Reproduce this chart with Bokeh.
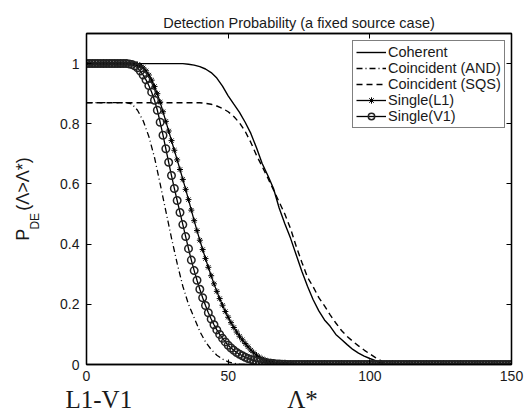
from bokeh.plotting import figure
from bokeh.models import (ColumnDataSource, Range1d, LinearAxis, Legend, LegendItem,
                          Title, FixedTicker)
from bokeh.embed import file_html
from bokeh.resources import INLINE

# ---------------- data ----------------
title_text = "Detection Probability (a fixed source case)"
series_names = ["Coherent", "Coincident (AND)", "Coincident (SQS)", "Single(L1)", "Single(V1)"]
x_ticks = [0, 50, 100, 150]
y_ticks = [0, 0.2, 0.4, 0.6, 0.8, 1]
y_tick_labels = ["0", "0.2", "0.4", "0.6", "0.8", "1"]

x_coherent = list(range(0, 107, 2))
p_coherent = [1.0, 1.0, 1.0, 1.0, 1.0, 1.0, 1.0, 1.0, 1.0, 1.0,
              1.0, 1.0, 1.0, 1.0, 1.0, 1.0, 1.0, 1.0,
              0.998, 0.995, 0.99, 0.982, 0.97, 0.952, 0.925, 0.893, 0.865, 0.838,
              0.805, 0.768, 0.72, 0.668, 0.628, 0.585, 0.52, 0.468, 0.42, 0.365,
              0.31, 0.26, 0.215, 0.178, 0.148, 0.127, 0.1, 0.083, 0.066, 0.05,
              0.038, 0.028, 0.02, 0.013, 0.005, 0.0]

x_and = list(range(0, 57, 2))
p_and = [0.87, 0.87, 0.87, 0.87, 0.87, 0.87, 0.87, 0.87,
         0.866, 0.845, 0.81, 0.758, 0.688, 0.6, 0.51, 0.42, 0.336, 0.26,
         0.2, 0.155, 0.11, 0.075, 0.05, 0.031, 0.018, 0.009, 0.004, 0.001, 0.0]

x_sqs = list(range(0, 107, 2))
p_sqs = [0.87, 0.87, 0.87, 0.87, 0.87, 0.87, 0.87, 0.87, 0.87, 0.87,
         0.87, 0.87, 0.87, 0.87, 0.87, 0.87, 0.87, 0.87, 0.87, 0.87, 0.87,
         0.868, 0.865, 0.859, 0.851, 0.84, 0.824, 0.803, 0.775, 0.738, 0.695,
         0.658, 0.62, 0.58, 0.54, 0.5, 0.452, 0.393, 0.34, 0.29, 0.258,
         0.222, 0.195, 0.165, 0.138, 0.113, 0.093, 0.077, 0.062, 0.048, 0.035,
         0.023, 0.012, 0.0]

x_single = list(range(0, 151))
p_l1 = [1.0, 1.0, 1.0, 1.0, 1.0, 1.0, 1.0, 1.0, 1.0, 1.0,
        1.0, 1.0, 1.0, 1.0, 1.0, 1.0, 1.0,
        0.999, 0.997, 0.993, 0.986, 0.976, 0.962, 0.945, 0.924, 0.9, 0.872,
        0.84, 0.808, 0.776, 0.744, 0.712, 0.68, 0.648, 0.615, 0.582, 0.548,
        0.513, 0.478, 0.445, 0.413, 0.382, 0.352, 0.323, 0.295, 0.268, 0.243,
        0.219, 0.197, 0.176, 0.157, 0.139, 0.123, 0.108, 0.094, 0.082, 0.07,
        0.059, 0.048, 0.039, 0.031, 0.024, 0.019, 0.015, 0.011, 0.009, 0.007,
        0.005, 0.004, 0.003, 0.002, 0.002, 0.001, 0.001,
        0.0, 0.0, 0.0, 0.0, 0.0, 0.0, 0.0, 0.0, 0.0, 0.0,
        0.0, 0.0, 0.0, 0.0, 0.0, 0.0, 0.0, 0.0, 0.0, 0.0,
        0.0, 0.0, 0.0, 0.0, 0.0, 0.0, 0.0, 0.0, 0.0, 0.0,
        0.0, 0.0, 0.0, 0.0, 0.0, 0.0, 0.0, 0.0, 0.0, 0.0,
        0.0, 0.0, 0.0, 0.0, 0.0, 0.0, 0.0, 0.0, 0.0, 0.0,
        0.0, 0.0, 0.0, 0.0, 0.0, 0.0, 0.0, 0.0, 0.0, 0.0,
        0.0, 0.0, 0.0, 0.0, 0.0, 0.0, 0.0, 0.0, 0.0, 0.0,
        0.0, 0.0, 0.0, 0.0, 0.0, 0.0, 0.0]
p_v1 = [1.0, 1.0, 1.0, 1.0, 1.0, 1.0, 1.0, 1.0, 1.0, 1.0,
        1.0, 1.0, 1.0, 1.0, 1.0,
        0.999, 0.997, 0.993, 0.986, 0.975, 0.962, 0.946, 0.927, 0.905, 0.878,
        0.845, 0.805, 0.762, 0.717, 0.672, 0.628, 0.585, 0.545, 0.505, 0.465,
        0.425, 0.385, 0.347, 0.312, 0.28, 0.25, 0.222, 0.196, 0.172, 0.151,
        0.132, 0.115, 0.1, 0.087, 0.075, 0.064, 0.055, 0.047, 0.04, 0.034,
        0.029, 0.024, 0.02, 0.017, 0.014, 0.011, 0.009, 0.007, 0.006, 0.005,
        0.004, 0.003, 0.002, 0.002, 0.001, 0.001,
        0.0, 0.0, 0.0, 0.0, 0.0, 0.0, 0.0, 0.0, 0.0, 0.0,
        0.0, 0.0, 0.0, 0.0, 0.0, 0.0, 0.0, 0.0, 0.0, 0.0,
        0.0, 0.0, 0.0, 0.0, 0.0, 0.0, 0.0, 0.0, 0.0, 0.0,
        0.0, 0.0, 0.0, 0.0, 0.0, 0.0, 0.0, 0.0, 0.0, 0.0,
        0.0, 0.0, 0.0, 0.0, 0.0, 0.0, 0.0, 0.0, 0.0, 0.0,
        0.0, 0.0, 0.0, 0.0, 0.0, 0.0, 0.0, 0.0, 0.0, 0.0,
        0.0, 0.0, 0.0, 0.0, 0.0, 0.0, 0.0, 0.0, 0.0, 0.0,
        0.0, 0.0, 0.0, 0.0, 0.0, 0.0, 0.0, 0.0, 0.0, 0.0]

# ---------------- figure ----------------
SANS = "Liberation Sans"
SERIF = "Liberation Serif"
INK = "#1a1a1a"

p = figure(frame_width=425, frame_height=331,
           min_border_left=86, min_border_right=16, min_border_top=33, min_border_bottom=51,
           x_range=Range1d(0, 150), y_range=Range1d(0, 1.1),
           x_axis_type=None, y_axis_type=None,
           output_backend="svg", toolbar_location=None)
p.xgrid.visible = False
p.ygrid.visible = False
p.outline_line_color = "black"
p.outline_line_width = 1.3
p.background_fill_color = "white"
p.border_fill_color = "white"

bottom_axis = LinearAxis(ticker=FixedTicker(ticks=x_ticks))
left_axis = LinearAxis(ticker=FixedTicker(ticks=y_ticks))
left_axis.major_label_overrides = {t: s for t, s in zip(y_ticks, y_tick_labels)}
top_axis = LinearAxis(ticker=FixedTicker(ticks=x_ticks))
right_axis = LinearAxis(ticker=FixedTicker(ticks=y_ticks))

for ax in [bottom_axis, left_axis, top_axis, right_axis]:
    ax.major_tick_in = 5
    ax.major_tick_out = 0
    ax.minor_tick_in = 0
    ax.minor_tick_out = 0
    ax.axis_line_color = "black"
    ax.axis_line_width = 1.3
    ax.major_tick_line_color = "black"
    ax.major_label_text_font = SANS
    ax.major_label_text_font_size = "14px"
    ax.major_label_text_color = INK
for ax in [top_axis, right_axis]:
    ax.major_label_text_font_size = "1px"
    ax.major_label_text_color = None
    ax.major_label_standoff = 0
bottom_axis.major_label_standoff = 6
left_axis.major_label_standoff = 7


def label_only_axis(text, size, standoff):
    """A left axis without line/ticks that only carries a (rotated) label."""
    return LinearAxis(ticker=FixedTicker(ticks=[]), axis_line_color=None,
                      major_tick_line_color=None, minor_tick_line_color=None,
                      major_tick_in=0, major_tick_out=0, minor_tick_in=0, minor_tick_out=0,
                      major_label_standoff=0, major_label_text_font_size="1px",
                      major_label_text_color=None,
                      axis_label=text, axis_label_standoff=standoff,
                      axis_label_text_font=SANS, axis_label_text_font_size=size,
                      axis_label_text_font_style="normal", axis_label_text_color=INK)


# y label  P_DE(Λ>Λ*): subscript "DE" on a column next to the tick labels, main text outside it
ylab_sub = label_only_axis("DE" + "\u2003" * 3 + "\u2002" + "\u2009", "12px", 16)
ylab_main = label_only_axis("P\u2002\u2002(Λ>Λ*)", "18px", -8)

p.add_layout(bottom_axis, "below")
p.add_layout(left_axis, "left")
p.add_layout(ylab_sub, "left")
p.add_layout(ylab_main, "left")
p.add_layout(top_axis, "above")
p.add_layout(right_axis, "right")

# ---------------- title, panel tag and x label ----------------
p.title.text = title_text
p.title.align = "center"
p.title.text_font = SANS
p.title.text_font_size = "14.5px"
p.title.text_font_style = "normal"
p.title.text_color = INK
p.title.standoff = 6

t_bottom = Title(text="L1-V1" + "\u2003" * 6 + "\u2009" + "Λ*", align="left", offset=-21, standoff=1,
                 text_font=SERIF, text_font_size="25px", text_font_style="normal", text_color=INK)
p.add_layout(t_bottom, "below")

# ---------------- data marks ----------------
src_coh = ColumnDataSource(dict(x=x_coherent, y=p_coherent))
src_and = ColumnDataSource(dict(x=x_and, y=p_and))
src_sqs = ColumnDataSource(dict(x=x_sqs, y=p_sqs))
src_l1 = ColumnDataSource(dict(x=x_single, y=p_l1))
src_v1 = ColumnDataSource(dict(x=x_single, y=p_v1))

r_coh = p.line("x", "y", source=src_coh, line_color="black", line_width=1.4)
r_and = p.line("x", "y", source=src_and, line_color="black", line_width=1.3, line_dash="6 3 1 3")
r_sqs = p.line("x", "y", source=src_sqs, line_color="black", line_width=1.4, line_dash="6 4")
r_l1 = p.line("x", "y", source=src_l1, line_color="black", line_width=1.3)
r_l1m = p.scatter("x", "y", source=src_l1, marker="asterisk", size=6, line_color="black", line_width=1.0)
r_v1 = p.line("x", "y", source=src_v1, line_color="black", line_width=1.3)
r_v1m = p.scatter("x", "y", source=src_v1, marker="circle", size=7.5, line_color="#222222",
                  line_width=1.5, fill_color=None)

legend = Legend(items=[
    LegendItem(label=series_names[0], renderers=[r_coh]),
    LegendItem(label=series_names[1], renderers=[r_and]),
    LegendItem(label=series_names[2], renderers=[r_sqs]),
    LegendItem(label=series_names[3], renderers=[r_l1, r_l1m]),
    LegendItem(label=series_names[4], renderers=[r_v1, r_v1m]),
], location=(266, 236))
legend.label_text_font = SANS
legend.label_text_font_size = "14.5px"
legend.label_text_color = INK
legend.label_height = 16
legend.glyph_height = 16
legend.glyph_width = 30
legend.label_standoff = 2
legend.spacing = 0
legend.padding = 3
legend.margin = 0
legend.border_line_color = "black"
legend.border_line_width = 1.3
legend.background_fill_color = "white"
legend.background_fill_alpha = 1.0
p.add_layout(legend, "center")

open("out.html", "w").write(file_html(p, INLINE))
